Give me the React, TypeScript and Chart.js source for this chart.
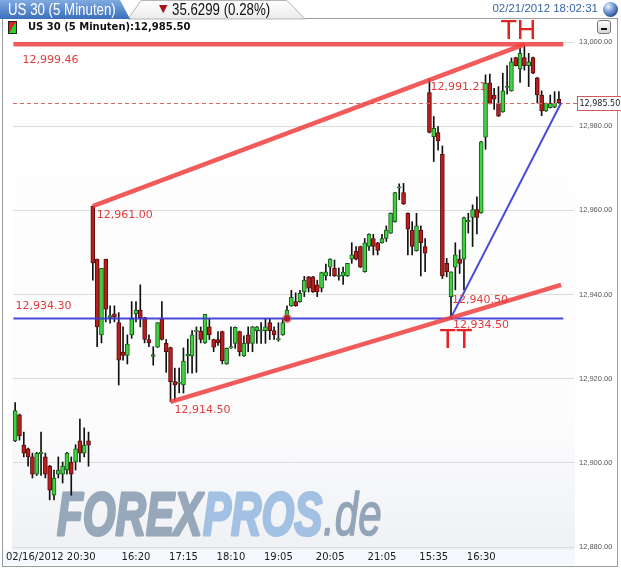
import React, { useEffect, useRef } from 'react';
import { Chart, registerables } from 'chart.js';
Chart.register(...registerables);

// ---- data (5-minute candles, US 30) ----
const OPEN = [
  12905.2, 12911.4, 12904.2, 12903.3, 12901.4, 12897.3, 12902.2, 12901.4, 12899.2, 12892.3,
  12897.3, 12897.3, 12898.3, 12900.2, 12900.2, 12905.2, 12902.3, 12905.2, 12961.0, 12948.4,
  12930.4, 12948.4, 12934.5, 12935.4, 12933.3, 12926.3, 12925.5, 12930.4, 12935.4, 12936.3,
  12934.5, 12929.3, 12925.3, 12927.5, 12934.3, 12928.4, 12927.4, 12919.3, 12918.9, 12918.5,
  12925.4, 12925.4, 12931.2, 12931.3, 12928.5, 12932.3, 12929.3, 12929.3, 12931.2, 12923.5,
  12927.3, 12928.4, 12931.2, 12925.4, 12930.4, 12928.4, 12931.4, 12931.3, 12931.4, 12933.3,
  12931.4, 12929.2, 12930.4, 12934.3, 12937.3, 12938.3, 12938.3, 12940.6, 12944.2, 12944.2,
  12942.3, 12941.5, 12944.4, 12946.5, 12946.2, 12944.3, 12944.4, 12944.4, 12948.4, 12950.3,
  12951.4, 12945.4, 12951.4, 12953.3, 12952.3, 12952.3, 12953.3, 12954.6, 12957.3, 12965.3,
  12964.2, 12959.3, 12955.3, 12950.4, 12955.3, 12951.4, 12988.0, 12977.5, 12978.5, 12973.3,
  12947.4, 12939.5, 12946.5, 12948.4, 12948.4, 12957.3, 12958.3, 12960.2, 12959.4, 12977.4,
  12990.3, 12987.4, 12985.4, 12983.4, 12989.2, 12988.4, 12996.3, 12993.6, 12996.3, 12994.4,
  12996.3, 12991.5, 12987.4, 12983.6, 12984.4, 12984.5, 12986.4,
];
const HIGH = [
  12914.3, 12911.6, 12907.3, 12903.5, 12902.3, 12902.5, 12907.3, 12902.3, 12899.4, 12898.3,
  12901.4, 12900.2, 12902.5, 12901.4, 12904.3, 12910.4, 12908.3, 12907.3, 12961.0, 12948.4,
  12946.2, 12948.4, 12937.3, 12937.3, 12935.7, 12932.3, 12930.4, 12938.3, 12938.3, 12942.3,
  12934.6, 12930.4, 12927.6, 12933.3, 12938.3, 12929.3, 12927.5, 12922.5, 12922.5, 12927.3,
  12929.4, 12931.4, 12932.3, 12932.3, 12935.3, 12934.3, 12929.4, 12931.2, 12931.3, 12927.3,
  12932.3, 12932.3, 12931.3, 12930.2, 12932.3, 12932.4, 12932.4, 12933.3, 12934.3, 12934.3,
  12932.3, 12933.3, 12934.3, 12937.3, 12941.0, 12940.4, 12941.0, 12944.3, 12944.3, 12944.3,
  12943.4, 12945.3, 12947.2, 12948.5, 12948.2, 12946.3, 12946.5, 12947.4, 12952.3, 12951.4,
  12951.5, 12953.3, 12954.4, 12954.3, 12952.4, 12954.3, 12956.3, 12959.4, 12964.3, 12966.3,
  12966.4, 12959.4, 12957.3, 12959.3, 12956.3, 12953.3, 12991.2, 12982.3, 12979.9, 12975.3,
  12948.6, 12945.4, 12952.3, 12950.6, 12958.4, 12959.3, 12961.3, 12963.2, 12976.4, 12992.2,
  12992.4, 12989.0, 12989.4, 12992.6, 12994.4, 12996.2, 12996.4, 12998.5, 12999.46, 12997.3,
  12996.4, 12991.6, 12988.4, 12985.5, 12987.4, 12988.2, 12988.2,
];
const LOW = [
  12905.0, 12905.4, 12901.4, 12899.2, 12896.4, 12897.0, 12897.0, 12896.4, 12891.2, 12891.2,
  12896.4, 12895.2, 12897.3, 12892.3, 12898.3, 12900.2, 12901.4, 12899.2, 12943.4, 12927.6,
  12928.5, 12933.5, 12933.2, 12933.5, 12918.5, 12924.4, 12923.5, 12929.6, 12933.5, 12932.3,
  12928.5, 12927.6, 12923.2, 12927.4, 12929.2, 12921.5, 12914.5, 12914.9, 12916.6, 12916.6,
  12921.3, 12921.3, 12921.5, 12928.5, 12928.4, 12929.3, 12926.4, 12927.9, 12923.5, 12923.4,
  12927.2, 12927.2, 12925.4, 12925.3, 12926.4, 12926.4, 12928.4, 12928.4, 12928.4, 12929.3,
  12929.3, 12928.9, 12930.3, 12934.2, 12937.2, 12937.2, 12938.2, 12939.5, 12940.6, 12940.5,
  12939.5, 12940.6, 12943.4, 12944.4, 12944.3, 12943.4, 12942.4, 12944.3, 12947.4, 12948.2,
  12946.4, 12945.3, 12950.5, 12949.4, 12949.4, 12952.2, 12952.6, 12954.5, 12957.2, 12962.5,
  12961.4, 12949.4, 12949.4, 12950.3, 12944.4, 12945.4, 12978.4, 12971.6, 12974.3, 12943.8,
  12944.2, 12934.5, 12941.1, 12945.0, 12941.1, 12954.6, 12951.4, 12954.4, 12959.3, 12974.5,
  12985.3, 12984.0, 12982.3, 12983.3, 12987.6, 12988.3, 12994.3, 12990.4, 12993.3, 12989.4,
  12992.5, 12985.5, 12982.5, 12983.5, 12984.3, 12984.4, 12985.4,
];
const CLOSE = [
  12912.4, 12906.4, 12902.3, 12901.4, 12897.3, 12902.3, 12902.5, 12897.3, 12893.5, 12896.4,
  12898.3, 12899.2, 12902.3, 12897.3, 12903.3, 12902.3, 12904.2, 12904.2, 12947.5, 12932.3,
  12946.2, 12936.5, 12935.0, 12934.6, 12924.4, 12925.5, 12928.2, 12934.3, 12936.3, 12934.5,
  12929.3, 12928.5, 12925.7, 12933.3, 12929.3, 12926.4, 12919.3, 12918.5, 12919.2, 12924.2,
  12925.8, 12930.4, 12931.5, 12929.3, 12935.3, 12930.4, 12927.5, 12928.5, 12924.3, 12927.2,
  12927.6, 12932.2, 12926.4, 12928.4, 12928.4, 12932.3, 12932.3, 12931.6, 12932.3, 12931.4,
  12930.4, 12929.5, 12933.3, 12936.3, 12939.3, 12937.3, 12940.3, 12943.4, 12941.5, 12940.6,
  12940.6, 12945.2, 12945.4, 12948.4, 12944.4, 12944.6, 12945.3, 12947.4, 12949.4, 12948.4,
  12946.5, 12952.3, 12954.3, 12951.4, 12950.5, 12953.3, 12955.3, 12959.3, 12964.2, 12965.6,
  12961.5, 12955.5, 12951.4, 12956.3, 12952.3, 12949.8, 12978.5, 12979.5, 12976.5, 12944.4,
  12945.4, 12945.4, 12949.4, 12947.4, 12958.3, 12957.6, 12960.2, 12958.3, 12976.3, 12990.2,
  12985.4, 12986.4, 12982.4, 12988.4, 12989.5, 12995.3, 12994.4, 12997.3, 12994.4, 12995.3,
  12992.6, 12987.4, 12983.6, 12985.4, 12985.4, 12985.4, 12985.5,
];
const SLOTS = 130; // candle slots on the time axis (last few stay empty)
const X_TICK_INDEX = [0, 28, 39, 50, 61, 73, 85, 97, 108];
const X_TICK_LABELS = ['02/16/2012 20:30', '16:20', '17:15', '18:10', '19:05', '20:05', '21:05', '15:35', '16:30'];
const Y_MIN = 12880;
const Y_MAX = 13000;
const Y_STEP = 20;
const LAST_PRICE = 12985.5;
// drawn support / resistance lines: [startIndex, startPrice, endIndex, endPrice]
const RED_LINES = [
  [-0.4, 12999.46, 127, 12999.46],
  [18, 12961.0, 118, 12999.46],
  [36, 12914.5, 126.5, 12942.3],
];
const BLUE_LINES = [
  [-0.4, 12934.3, 127, 12934.3],
  [101, 12934.5, 126.5, 12985.5],
];
const MARKER = [63, 12934.3];
const NOTE_TEXT = ['12,999.46', '12,961.00', '12,934.30', '12,914.50', '12,991.21', '12,940.50', '12,934.50'];
const NOTE_INDEX = [-0.4, 18, -0.4, 36, 96, 101, 101];
const NOTE_PRICE = [12999.46, 12961.0, 12934.3, 12914.5, 12991.21, 12934.5, 12934.5];
const BIG_TEXT = ['TH', 'TT'];
const BIG_INDEX = [118, 101];
const BIG_PRICE = [12999.46, 12934.5];

// ---- styles ----
const NOTE_OFFSET = [[9, 16], [4, 9], [2, -12], [4, 8], [1, 8], [1, -18], [2, 7]];
const BIG_OFFSET = [[-6, -13], [5, 23]];
const UP_FILL = '#3fd23f';
const UP_EDGE = '#1d5a1d';
const DOWN_FILL = '#b81e1e';
const DOWN_EDGE = '#5a0c0c';

const fmt = (v: number) =>
  Number(v).toLocaleString('en-US', { minimumFractionDigits: 2, maximumFractionDigits: 2 });

const decorPlugin = {
  id: 'decor',
  beforeDraw(chart: any) {
    const { ctx, chartArea } = chart;
    ctx.save();
    const g = ctx.createLinearGradient(0, chartArea.top - 4, 0, chartArea.bottom + 3);
    g.addColorStop(0, '#ffffff');
    g.addColorStop(0.75, '#fcfcfd');
    g.addColorStop(1, '#eff1f4');
    ctx.fillStyle = g;
    ctx.fillRect(chartArea.left - 1, chartArea.top - 4, chartArea.right - chartArea.left + 2, chartArea.bottom - chartArea.top + 7);
    ctx.fillStyle = '#f5f8fc';
    ctx.fillRect(3, chartArea.bottom + 3, chartArea.right - 2, 15);
    ctx.restore();
  },
  beforeDatasetsDraw(chart: any) {
    const { ctx, chartArea } = chart;
    ctx.save();
    const base = chartArea.bottom - 12;
    const sx = 0.68;
    ctx.translate(57, base);
    ctx.scale(sx, 1);
    ctx.textBaseline = 'alphabetic';
    ctx.lineJoin = 'round';
    ctx.font = 'italic bold 62px "Liberation Sans", Arial, sans-serif';
    let x = 0;
    ctx.fillStyle = '#97a8ba';
    ctx.strokeStyle = '#97a8ba';
    ctx.lineWidth = 3;
    ctx.fillText('FOREX', x, 0);
    ctx.strokeText('FOREX', x, 0);
    x += ctx.measureText('FOREX').width + 1;
    ctx.fillStyle = '#a2c1e3';
    ctx.strokeStyle = '#a2c1e3';
    ctx.fillText('PROS', x, 0);
    ctx.strokeText('PROS', x, 0);
    x += ctx.measureText('PROS').width + 1;
    ctx.font = 'italic 62px "Liberation Sans", Arial, sans-serif';
    ctx.fillStyle = '#92a5b8';
    ctx.strokeStyle = '#92a5b8';
    ctx.lineWidth = 1.5;
    ctx.fillText('.de', x, 0);
    ctx.strokeText('.de', x, 0);
    ctx.restore();
  },
  afterDatasetsDraw(chart: any) {
    const { ctx, chartArea, scales } = chart;
    const xs = scales.x;
    const ys = scales.y;
    const px = (i: number) => xs.getPixelForValue(i);
    const py = (p: number) => ys.getPixelForValue(p);
    ctx.save();
    // last price dashed line + box
    const ly = Math.round(py(LAST_PRICE)) + 0.5;
    ctx.strokeStyle = '#d86a6a';
    ctx.lineWidth = 1;
    ctx.setLineDash([4, 3]);
    ctx.beginPath();
    ctx.moveTo(chartArea.left, ly);
    ctx.lineTo(chartArea.right + 3, ly);
    ctx.stroke();
    ctx.setLineDash([]);
    ctx.fillStyle = '#ffffff';
    ctx.fillRect(chartArea.right + 3.5, ly - 7, 50, 14);
    ctx.strokeStyle = '#d25a5a';
    ctx.strokeRect(chartArea.right + 3.5, ly - 7, 50, 14);
    ctx.fillStyle = '#222';
    ctx.font = '8px "DejaVu Sans", sans-serif';
    ctx.textBaseline = 'middle';
    ctx.textAlign = 'left';
    ctx.fillText(fmt(LAST_PRICE), chartArea.right + 5.5, ly + 0.5);

    // blue lines
    ctx.lineCap = 'butt';
    ctx.strokeStyle = 'rgba(58,58,215,0.92)';
    ctx.lineWidth = 2;
    BLUE_LINES.forEach(([i1, p1, i2, p2]) => {
      ctx.beginPath();
      ctx.moveTo(px(i1), py(p1));
      ctx.lineTo(px(i2), py(p2));
      ctx.stroke();
    });
    // red lines
    ctx.strokeStyle = 'rgba(240,62,62,0.85)';
    ctx.lineWidth = 4.5;
    RED_LINES.forEach(([i1, p1, i2, p2]) => {
      ctx.beginPath();
      ctx.moveTo(px(i1), py(p1));
      ctx.lineTo(px(i2), py(p2));
      ctx.stroke();
    });
    // marker
    ctx.fillStyle = 'rgba(210,70,80,0.45)';
    ctx.beginPath();
    ctx.arc(px(MARKER[0]), py(MARKER[1]), 5, 0, Math.PI * 2);
    ctx.fill();
    ctx.fillStyle = '#a81c2c';
    ctx.beginPath();
    ctx.arc(px(MARKER[0]), py(MARKER[1]), 3.2, 0, Math.PI * 2);
    ctx.fill();
    // notes
    ctx.font = '11px "DejaVu Sans", sans-serif';
    ctx.fillStyle = '#e03c3c';
    ctx.textAlign = 'left';
    ctx.textBaseline = 'middle';
    NOTE_TEXT.forEach((t, k) => {
      ctx.fillText(t, px(NOTE_INDEX[k]) + NOTE_OFFSET[k][0], py(NOTE_PRICE[k]) + NOTE_OFFSET[k][1]);
    });
    ctx.font = '27px "Liberation Sans", Arial, sans-serif';
    ctx.fillStyle = '#e52222';
    ctx.textAlign = 'center';
    BIG_TEXT.forEach((t, k) => {
      ctx.fillText(t, px(BIG_INDEX[k]) + BIG_OFFSET[k][0], py(BIG_PRICE[k]) + BIG_OFFSET[k][1]);
    });
    ctx.restore();
  },
  afterDraw(chart: any) {
    const { ctx, chartArea, scales } = chart;
    ctx.save();
    ctx.font = '10px "DejaVu Sans", sans-serif';
    ctx.fillStyle = '#1b1b1b';
    ctx.textBaseline = 'middle';
    ctx.textAlign = 'left';
    X_TICK_INDEX.forEach((idx, k) => {
      const t = X_TICK_LABELS[k];
      const w = ctx.measureText(t).width;
      const x = Math.max(scales.x.getPixelForValue(idx) - w / 2, 6);
      ctx.fillText(t, x, chartArea.bottom + 10);
    });
    ctx.restore();
  },
};

export default function App() {
  const ref = useRef<HTMLCanvasElement>(null);
  useEffect(() => {
    const canvas = ref.current!;
    const labels = Array.from({ length: SLOTS }, (_, i) => String(i));
    const up = OPEN.map((o, i) => CLOSE[i] >= o);
    const chart = new Chart(canvas, {
      type: 'bar',
      data: {
        labels,
        datasets: [
          {
            data: OPEN.map((o, i) => [o, CLOSE[i]]) as any,
            backgroundColor: up.map((u) => (u ? UP_FILL : DOWN_FILL)),
            borderColor: up.map((u) => (u ? UP_EDGE : DOWN_EDGE)),
            borderWidth: 1,
            borderSkipped: false,
            barThickness: 4,
            grouped: false,
            order: 0,
          } as any,
          {
            data: LOW.map((l, i) => [l, HIGH[i]]) as any,
            backgroundColor: '#111111',
            borderWidth: 0,
            barThickness: 1,
            grouped: false,
            order: 1,
          } as any,
        ],
      },
      options: {
        responsive: false,
        maintainAspectRatio: false,
        animation: false,
        events: [],
        layout: { padding: { left: 13, right: 0, top: 42, bottom: 23 } },
        plugins: { legend: { display: false }, tooltip: { enabled: false } },
        scales: {
          x: { display: false, offset: true },
          y: {
            position: 'right',
            min: Y_MIN,
            max: Y_MAX,
            afterFit: (s: any) => {
              s.width = 47;
            },
            ticks: {
              stepSize: Y_STEP,
              padding: 5,
              color: '#555',
              font: { family: '"Liberation Sans", Arial, sans-serif', size: 7.5 },
              callback: (v: any) => fmt(v),
            },
            grid: { color: '#dcdcdc', drawTicks: false },
            border: { display: false },
          },
        },
      } as any,
      plugins: [decorPlugin],
    });
    return () => chart.destroy();
  }, []);

  const narrow: React.CSSProperties = {
    position: 'absolute',
    fontFamily: '"Liberation Sans", Arial, sans-serif',
    fontSize: 16,
    whiteSpace: 'nowrap',
    transform: 'scaleX(0.83)',
    transformOrigin: 'left top',
    lineHeight: '18px',
  };

  return (
    <div style={{ position: 'absolute', left: 0, top: 0, width: 621, height: 570, background: '#fff', overflow: 'hidden' }}>
      <div style={{ position: 'absolute', left: 2, top: 18, width: 616, height: 549, border: '1px solid #9c9c9c', boxSizing: 'border-box' }} />
      <canvas ref={ref} width={621} height={570} style={{ position: 'absolute', left: 0, top: 0, width: 621, height: 570 }} />
      {/* header tabs */}
      <svg width={621} height={20} style={{ position: 'absolute', left: 0, top: 0 }}>
        <defs>
          <linearGradient id="tabBlue" x1="0" y1="0" x2="0" y2="1">
            <stop offset="0" stopColor="#80aae0" />
            <stop offset="1" stopColor="#3a6fbb" />
          </linearGradient>
          <linearGradient id="tabGrey" x1="0" y1="0" x2="0" y2="1">
            <stop offset="0" stopColor="#ffffff" />
            <stop offset="1" stopColor="#ebebeb" />
          </linearGradient>
        </defs>
        <polygon points="128,19 141,0.5 287,0.5 305,19" fill="url(#tabGrey)" stroke="#b4b4b4" strokeWidth="1" />
        <polygon points="0,0 120,0 130,19 0,19" fill="url(#tabBlue)" />
      </svg>
      <span style={{ ...narrow, left: 8, top: 1, color: '#fff' }}>US 30 (5 Minuten)</span>
      <span style={{ position: 'absolute', left: 159, top: 2, color: '#a31414', fontSize: 11, fontFamily: '"DejaVu Sans", sans-serif' }}>▼</span>
      <span style={{ ...narrow, left: 172, top: 1, color: '#111' }}>35.6299 (0.28%)</span>
      <span style={{ position: 'absolute', right: 23, top: 2, color: '#3566a8', fontSize: 11.5, fontFamily: '"Liberation Sans", Arial, sans-serif', whiteSpace: 'nowrap' }}>
        02/21/2012 18:02:31
      </span>
      <div style={{ position: 'absolute', left: 603, top: 2, width: 15, height: 15, borderRadius: '50%', background: 'radial-gradient(circle at 35% 30%, #f2f6ff 0%, #7fa2dc 35%, #2b4f94 75%, #1a2f60 100%)' }} />
      {/* legend */}
      <div style={{ position: 'absolute', left: 8, top: 21, width: 9, height: 13, border: '1px solid #222', boxSizing: 'border-box', background: 'linear-gradient(to bottom right, #e32020 50%, #22d422 50%)' }} />
      <span style={{ position: 'absolute', left: 28, top: 20, fontFamily: '"DejaVu Sans", sans-serif', fontWeight: 'bold', fontSize: 10, lineHeight: '14px', color: '#111', whiteSpace: 'nowrap' }}>
        US 30 (5 Minuten):12,985.50
      </span>
      <div style={{ position: 'absolute', left: 597, top: 20, width: 14, height: 14, border: '1px solid #777', borderRadius: 3, boxSizing: 'border-box', background: 'linear-gradient(#ffffff, #d6d6d6)' }}>
        <div style={{ position: 'absolute', left: 3, top: 7, width: 6, height: 2, background: '#111' }} />
      </div>
    </div>
  );
}
